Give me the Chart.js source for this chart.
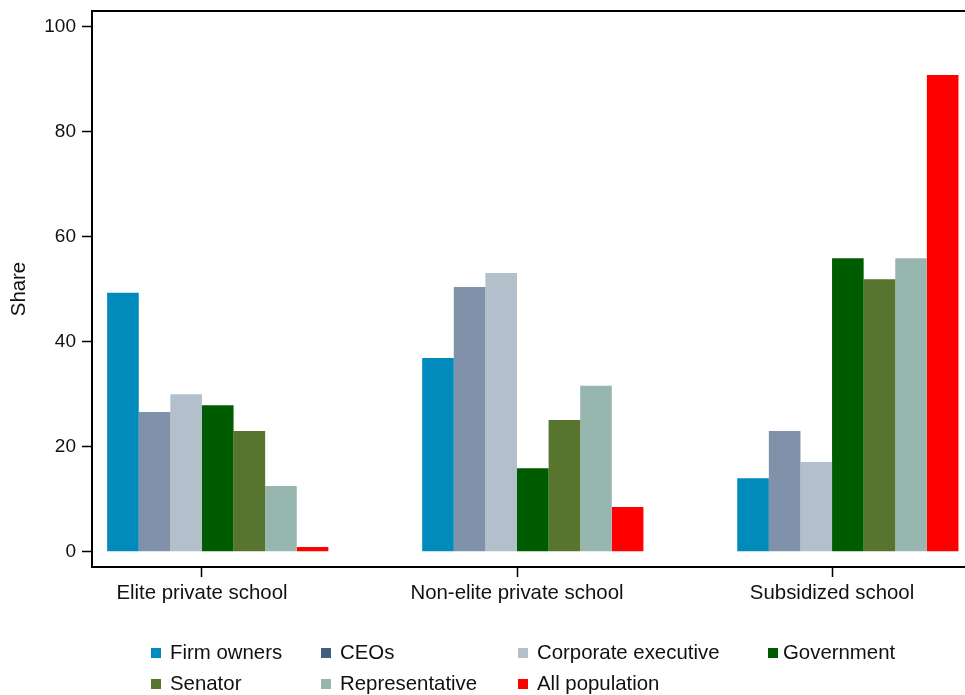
<!DOCTYPE html>
<html>
<head>
<meta charset="utf-8">
<script src="https://cdn.jsdelivr.net/npm/chart.js@4.4.1/dist/chart.umd.min.js"></script>
<style>
  body { margin: 0; background: #fff; }
  #wrap { position: relative; width: 965px; height: 695px; }
  #legend {
    position: absolute; left: 151px; top: 637px;
    display: grid; grid-template-columns: 170px 197px 250px auto;
    font-family: "Liberation Sans", Arial, Helvetica, sans-serif; font-size: 20.4px; color: #111;
  }
  #legend .item { display: flex; align-items: center; height: 31px; white-space: nowrap; }
  #legend .sw { width: 10px; height: 10px; margin-right: 9px; flex: none; }
</style>
</head>
<body>
<div id="wrap">
  <canvas id="shares" width="965" height="695"></canvas>
  <div id="legend"></div>
</div>
<script>
// data
var categories = ['Elite private school', 'Non-elite private school', 'Subsidized school'];
var seriesNames = ['Firm owners', 'CEOs', 'Corporate executive', 'Government', 'Senator', 'Representative', 'All population'];
var firmOwners = [49.3, 36.9, 14.0];
var ceos = [26.6, 50.4, 23.0];
var corporateExec = [30.0, 53.1, 17.1];
var government = [27.9, 15.9, 55.9];
var senator = [23.0, 25.1, 51.9];
var representative = [12.5, 31.6, 55.9];
var allPopulation = [0.9, 8.5, 90.8];
var yTicks = [0, 20, 40, 60, 80, 100];

// styles
var barColors = ['#008bbc', '#7f92aa', '#b3bfcb', '#005c00', '#57752f', '#98b6b0', '#ff0000'];
var legendColors = ['#008bbc', '#3e5f7e', '#b3bfcb', '#005c00', '#57752f', '#98b6b0', '#ff0000'];

var series = [firmOwners, ceos, corporateExec, government, senator, representative, allPopulation];

Chart.defaults.font.family = '"Liberation Sans", Arial, Helvetica, sans-serif';
Chart.defaults.color = '#111';

// empty slot in front of each group (bars sit right of the tick, as in the original)
var datasets = [{ label: '', data: [], backgroundColor: 'rgba(0,0,0,0)' }];
series.forEach(function(vals, s) {
  datasets.push({
    label: seriesNames[s],
    data: vals.map(function(v, i) { return {x: i, y: v}; }),
    backgroundColor: barColors[s],
    borderWidth: 0
  });
});

// top frame line
var frameTop = {
  id: 'frameTop',
  afterDraw: function(chart) {
    var a = chart.chartArea, ctx = chart.ctx;
    ctx.save();
    ctx.strokeStyle = '#000';
    ctx.lineWidth = 2;
    ctx.beginPath();
    ctx.moveTo(a.left - 1, a.top);
    ctx.lineTo(a.right, a.top);
    ctx.stroke();
    ctx.restore();
  }
};

var chart = new Chart('shares', {
  type: 'bar',
  data: { datasets: datasets },
  plugins: [frameTop],
  options: {
    responsive: false,
    animation: false,
    layout: { padding: { left: 0, top: 11, right: 0, bottom: 88 } },
    datasets: { bar: { categoryPercentage: 0.8025, barPercentage: 1 } },
    plugins: { legend: { display: false }, tooltip: { enabled: false } },
    scales: {
      x: {
        type: 'linear',
        offset: false,
        min: -0.349,
        max: 2.422,
        afterBuildTicks: function(s) { s.ticks = categories.map(function(c, i) { return {value: i}; }); },
        afterFit: function(s) { s.height = 40; s.paddingLeft = 0; s.paddingRight = 0; },
        ticks: {
          font: { size: 20.4 },
          padding: 4,
          maxRotation: 0,
          autoSkip: false,
          callback: function(v, i) { return categories[i]; }
        },
        grid: { offset: false, drawOnChartArea: false, tickLength: 10, tickColor: '#000', tickWidth: 1.5 },
        border: { display: true, color: '#000', width: 2 }
      },
      y: {
        min: -2.914,
        max: 102.99,
        afterBuildTicks: function(s) { s.ticks = yTicks.map(function(v) { return {value: v}; }); },
        afterFit: function(s) { s.width = 92; s.paddingTop = 0; s.paddingBottom = 0; },
        ticks: { font: { size: 19 }, padding: 6 },
        grid: { drawOnChartArea: false, tickLength: 10, tickColor: '#000', tickWidth: 1.5 },
        border: { display: true, color: '#000', width: 2 },
        title: { display: true, text: 'Share', font: { size: 20.4 }, padding: { top: 7, bottom: 0 } }
      }
    }
  }
});

// legend, two rows of four
var legend = document.getElementById('legend');
seriesNames.forEach(function(name, s) {
  var item = document.createElement('div');
  item.className = 'item';
  var sw = document.createElement('span');
  sw.className = 'sw';
  sw.style.background = legendColors[s];
  if (name === 'Government') sw.style.marginRight = '5px';
  var tx = document.createElement('span');
  tx.textContent = name;
  item.appendChild(sw);
  item.appendChild(tx);
  legend.appendChild(item);
});
</script>
</body>
</html>
